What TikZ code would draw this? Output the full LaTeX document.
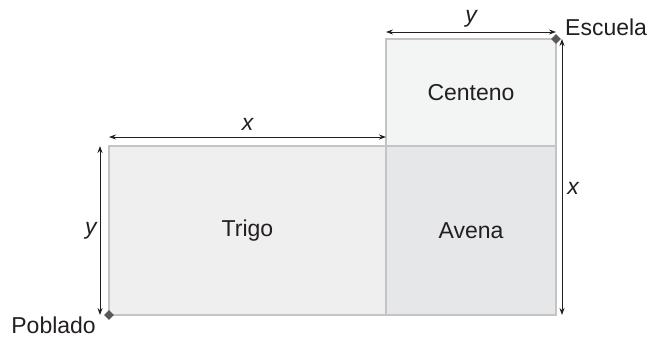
\documentclass[tikz,border=0pt]{standalone}
\usepackage{fontspec}
\setmainfont{Liberation Sans}
\usetikzlibrary{positioning, arrows.meta, shapes.geometric}
\definecolor{edgegray}{HTML}{C4C4C4}
\definecolor{trigofill}{HTML}{EFEFEF}
\definecolor{avenafill}{HTML}{E6E7E8}
\definecolor{centenofill}{HTML}{F3F4F4}
\definecolor{ink}{HTML}{231F20}
\tikzset{
    field/.style={
           rectangle,
           draw=edgegray, line width=1.3pt,
           inner sep=0pt, outer sep=0pt,
           text=ink,
           font=\fontsize{23}{26}\selectfont,
           },
    place/.style={diamond, fill=black!65, minimum size=10pt, inner sep=0pt},
    measure/.style={<->, >={Stealth[length=7pt,width=5pt]}, line width=0.9pt, draw=ink},
    letter/.style={font=\fontsize{23}{26}\selectfont\itshape, text=ink, inner sep=0pt},
    townname/.style={font=\fontsize{23}{26}\selectfont, text=ink, inner sep=0pt},
}

\begin{document}
\begin{tikzpicture}[x=1pt, y=-1pt]
  \useasboundingbox (0,0) rectangle (649,337);
  \node[field, fill=trigofill, minimum width=277pt, minimum height=169pt, anchor=south west] (Trigo) at (109,315) {Trigo};
  \node[field, fill=avenafill, minimum width=170pt, minimum height=169pt, right=0pt of Trigo] (Avena) {Avena};
  \node[field, fill=centenofill, minimum width=170pt, minimum height=107pt, above=0pt of Avena] (Centeno) {Centeno};

  \node[place] (Escuela) at (Centeno.north east) {};
  \node[place] (Poblado) at (Trigo.south west) {};
  \node[townname, anchor=west] (EscuelaName) at (565,27) {Escuela};
  \node[townname, anchor=east] (PobladoName) at (96,325) {Poblado};

  % dimension lines
  \coordinate (yTopA) at ([yshift=7pt]Centeno.north west);
  \coordinate (yTopB) at ([yshift=7pt]Centeno.north east);
  \coordinate (xTopA) at ([yshift=9pt]Trigo.north west);
  \coordinate (xTopB) at ([yshift=9pt]Trigo.north east);
  \coordinate (yLeftA) at ([xshift=-9pt]Trigo.north west);
  \coordinate (yLeftB) at ([xshift=-9pt]Trigo.south west);
  \coordinate (xRightA) at ([xshift=6pt]Centeno.north east);
  \coordinate (xRightB) at ([xshift=6pt]Avena.south east);

  \draw[measure] (yTopA) -- node[letter, midway, above=4pt] (yTop) {y} (yTopB);
  \draw[measure] (xTopA) -- node[letter, midway, above=6pt] (xTop) {x} (xTopB);
  \draw[measure] (yLeftA) -- node[letter, midway, left=3pt] (yLeft) {y} (yLeftB);
  \draw[measure] (xRightA) -- node[letter, pos=0.54, right=5pt] (xRight) {x} (xRightB);
\end{tikzpicture}
\end{document}
